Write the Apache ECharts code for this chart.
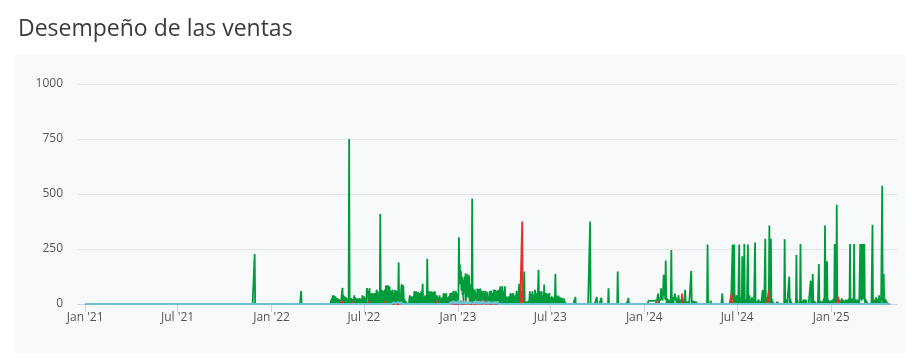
<!DOCTYPE html>
<html><head><meta charset="utf-8">
<script src="https://cdn.jsdelivr.net/npm/echarts@6/dist/echarts.min.js"></script>
<style>
html,body{margin:0;padding:0;background:#fff;}
#panel{position:absolute;left:15px;top:55px;width:891px;height:298px;background:#f8f9fb;}
#c{position:absolute;left:0;top:0;width:916px;height:359px;}
</style>
</head><body>
<div id="panel"></div>
<div id="c"></div>
<script>
// ---------- DATA ----------
const chartTitle = 'Desempeño de las ventas';
const seriesNames = ['Ventas', 'Devoluciones', 'Otros'];
const rangeStart = '2021-01-01';
const rangeEnd = '2025-04-26';
const axisMin = '2020-12-18';
const axisMax = '2025-05-10';
const tickDates = ['2021-01-01','2021-07-01','2022-01-01','2022-07-01','2023-01-01','2023-07-01','2024-01-01','2024-07-01','2025-01-01'];
const tickLabels = ["Jan '21","Jul '21","Jan '22","Jul '22","Jan '23","Jul '23","Jan '24","Jul '24","Jan '25"];
const yTicks = [0, 250, 500, 750, 1000];

// green: isolated days outside the dense stretch
const greenSpikes = [
  ['2021-11-29',227],['2022-02-28',60],
  ['2023-08-17',20],['2023-08-19',33],['2023-09-17',375],['2023-09-30',32],['2023-10-09',28],['2023-10-23',71],
  ['2023-11-10',148],['2023-11-26',5],['2023-11-28',10],['2023-12-01',28],
  ['2024-01-10',15],['2024-01-11',14],['2024-01-12',16],['2024-01-13',15],['2024-01-14',14],['2024-01-15',15],
  ['2024-01-16',16],['2024-01-17',15],['2024-01-18',14],['2024-01-19',15],['2024-01-20',16],['2024-01-21',15],
  ['2024-01-22',15],['2024-01-23',14],['2024-01-24',16],['2024-01-25',15],['2024-01-26',15],['2024-01-27',18],
  ['2024-01-28',47],['2024-01-29',20],['2024-01-31',25],['2024-02-01',15],['2024-02-02',30],
  ['2024-02-03',71],['2024-02-04',20],['2024-02-05',40],['2024-02-06',15],['2024-02-07',60],
  ['2024-02-08',133],['2024-02-09',40],['2024-02-10',90],['2024-02-11',20],
  ['2024-02-12',198],['2024-02-13',30],['2024-02-15',25],['2024-02-16',10],['2024-02-18',20],['2024-02-20',15],['2024-02-22',20],
  ['2024-02-23',245],['2024-02-24',10],['2024-02-26',30],['2024-02-28',20],['2024-02-29',15],
  ['2024-03-01',47],['2024-03-02',20],['2024-03-03',30],['2024-03-04',10],['2024-03-06',25],['2024-03-08',40],['2024-03-09',15],
  ['2024-03-11',20],['2024-03-12',10],['2024-03-15',30],['2024-03-18',20],['2024-03-21',65],['2024-03-22',15],['2024-03-25',10],
  ['2024-03-28',12],['2024-04-02',151],['2024-04-03',10],['2024-04-06',15],['2024-04-09',12],['2024-04-12',10],
  ['2024-05-04',270],['2024-05-10',15],['2024-05-26',5],['2024-06-02',48],
  ['2024-06-22',270],['2024-06-23',20],['2024-06-25',270],['2024-06-27',15],['2024-06-30',40],['2024-07-02',20],
  ['2024-07-05',270],['2024-07-07',30],['2024-07-09',25],['2024-07-11',217],['2024-07-13',20],['2024-07-15',273],
  ['2024-07-17',15],['2024-07-19',20],['2024-07-22',270],['2024-07-25',40],['2024-07-27',10],['2024-07-30',30],
  ['2024-08-02',15],['2024-08-05',279],['2024-08-07',10],['2024-08-12',20],['2024-08-16',10],['2024-08-20',64],
  ['2024-08-22',20],['2024-08-25',297],['2024-08-27',30],['2024-08-29',15],['2024-09-01',40],['2024-09-02',357],
  ['2024-09-03',60],['2024-09-05',297],['2024-09-07',20],['2024-09-09',10],['2024-09-18',10],
  ['2024-10-02',294],['2024-10-04',20],['2024-10-06',15],['2024-10-11',125],['2024-10-13',25],['2024-10-15',10],
  ['2024-10-25',224],['2024-10-27',20],['2024-11-02',273],['2024-11-04',15],['2024-11-09',20],['2024-11-11',10],
  ['2024-11-13',20],['2024-11-22',106],['2024-11-24',20],['2024-11-26',136],['2024-11-28',15],['2024-12-01',10],
  ['2024-12-08',182],['2024-12-10',15],['2024-12-14',10],['2024-12-18',25],['2024-12-20',357],['2024-12-22',30],
  ['2024-12-24',194],['2024-12-26',20],['2024-12-29',15],
  ['2025-01-02',15],['2025-01-04',20],['2025-01-06',25],['2025-01-08',273],['2025-01-10',30],['2025-01-12',451],
  ['2025-01-13',20],['2025-01-15',15],['2025-01-17',20],['2025-01-19',10],['2025-01-22',25],['2025-01-24',20],
  ['2025-01-26',15],['2025-01-28',10],['2025-01-30',20],['2025-02-01',15],['2025-02-03',20],['2025-02-05',25],
  ['2025-02-07',273],['2025-02-09',20],['2025-02-11',25],['2025-02-13',15],['2025-02-15',273],['2025-02-17',20],
  ['2025-02-20',20],['2025-02-22',15],['2025-02-24',20],['2025-02-27',273],['2025-02-28',20],['2025-03-01',273],
  ['2025-03-02',15],['2025-03-03',273],['2025-03-04',20],['2025-03-05',273],['2025-03-06',25],['2025-03-07',273],
  ['2025-03-08',15],['2025-03-10',20],['2025-03-12',10],['2025-03-23',360],['2025-03-25',20],['2025-03-28',20],
  ['2025-03-30',30],['2025-04-01',15],['2025-04-03',25],['2025-04-05',40],['2025-04-07',20],['2025-04-09',30],
  ['2025-04-10',25],['2025-04-11',538],['2025-04-12',30],['2025-04-14',136],['2025-04-16',25],['2025-04-18',20],
  ['2025-04-20',10]
];

// green: daily values, one row per week, starting 2022-04-25
const greenDenseStart = '2022-04-25';
const greenDense = [
  0,0,0,0,25,0,39,
  12,39,0,20,35,0,28,
  0,27,15,0,22,27,0,
  18,0,30,55,73,0,40,
  0,35,20,0,30,12,0,
  25,0,18,750,0,15,0,
  27,10,0,22,0,18,39,
  0,30,39,0,15,25,0,
  20,0,27,12,0,25,10,
  0,39,20,0,35,0,28,
  18,0,40,73,25,60,0,
  45,72,0,30,0,50,20,
  0,48,30,0,50,15,0,
  40,65,0,58,20,0,35,
  0,409,0,45,65,0,30,
  60,0,40,65,0,85,30,
  0,70,85,40,0,80,55,
  0,60,30,0,65,45,0,
  50,0,65,25,0,60,40,
  0,30,189,0,45,20,0,
  70,91,0,60,85,30,0,
  20,0,0,10,0,0,0,
  0,0,25,39,0,30,0,
  35,0,20,0,40,58,0,
  30,58,0,45,0,55,20,
  0,50,30,0,58,0,45,
  92,0,30,0,20,39,0,
  25,0,206,0,35,0,58,
  20,45,0,58,30,0,40,
  55,0,25,58,0,30,0,
  39,15,0,30,0,39,20,
  0,25,0,30,10,0,50,
  0,45,25,0,50,0,30,
  20,0,35,0,25,50,0,
  40,50,0,55,30,60,0,
  45,0,60,25,0,50,35,
  0,303,120,180,90,150,60,
  125,40,110,0,95,125,50,
  140,0,120,80,135,30,100,
  130,0,90,60,0,45,479,
  0,70,40,0,65,70,20,
  50,0,70,35,0,68,45,
  0,70,30,60,0,50,20,
  60,0,45,25,60,0,40,
  0,55,60,0,35,0,60,
  30,60,0,50,20,0,65,
  45,0,65,30,0,60,40,
  0,65,20,0,55,80,0,
  70,30,80,0,60,45,0,
  80,20,0,35,15,0,30,
  0,35,20,0,50,30,0,
  45,0,50,25,0,40,15,
  0,30,60,0,45,0,50,
  92,0,40,0,20,60,0,
  0,0,30,148,0,10,0,
  0,0,0,12,0,0,20,
  58,0,30,45,0,58,20,
  0,40,0,65,30,0,50,
  20,0,0,156,0,45,58,
  0,30,58,0,40,20,0,
  88,0,35,0,50,30,0,
  45,0,25,50,0,30,15,
  0,35,0,25,0,30,0,
  20,136,0,38,0,25,0,
  38,0,20,0,30,15,0,
  27,0,20,0,25,0,10
];

const redSpikes = [
  ['2022-05-19',15],['2022-06-10',12],['2022-07-10',15],['2022-08-10',12],['2022-11-21',15],['2022-12-17',15],
  ['2022-12-19',12],['2023-01-07',15],['2023-01-17',20],['2023-02-10',15],['2023-02-23',15],['2023-05-07',375],
  ['2024-01-25',15],['2024-03-15',47],['2024-06-20',47],['2024-09-01',64],['2025-01-15',33]
];

const blueSpikes = [
  ['2022-08-28',8],['2022-08-31',10],['2022-09-03',7],['2022-09-06',9],['2022-09-09',8],['2022-09-12',10],['2022-09-15',6]
];
const blueDenseStart = '2022-12-15';
const blueDense = [
  0,8,0,10,12,0,8,0,14,10,0,6,12,0,10,8,0,15,0,10,
  12,0,8,10,0,14,0,9,12,0,10,0,8,13,0,10,6,0,12,0,
  9,11,0,8,0,14,10,0,7,12,0,10,0,9,13,0,8,0,11,10,
  0,12,0,8,10,0,14,0,9,11,0,8,12,0,10,0,7,13,0,9,
  10,0,8,0,12,10,0,6,11,0,9,0,10,8,0,12,0,7,0,5
];

// ---------- BUILD ----------
const DAY = 86400000;
function ts(s){const p=s.split('-').map(Number);return Date.UTC(p[0],p[1]-1,p[2]);}
function buildDaily(spikes, denseStart, dense){
  const m = new Map();
  if (dense) { const t0 = ts(denseStart); dense.forEach((v,i)=>m.set(t0+i*DAY, v)); }
  spikes.forEach(([d,v])=>m.set(ts(d), v));
  const out = [];
  for (let t = ts(rangeStart); t <= ts(rangeEnd); t += DAY) out.push([t, m.has(t) ? m.get(t) : 0]);
  return out;
}
const greenData = buildDaily(greenSpikes, greenDenseStart, greenDense);
const redData = buildDaily(redSpikes, null, null);
const blueData = buildDaily(blueSpikes, blueDenseStart, blueDense);
const tickTs = tickDates.map(ts);

const font = "'Open Sans', 'Noto Sans', sans-serif";
const chart = echarts.init(document.getElementById('c'), null, {renderer:'canvas'});
chart.setOption({
  animation: false,
  backgroundColor: 'transparent',
  title: {
    text: chartTitle, left: 13, top: 13,
    textStyle: {fontSize: 23, fontWeight: 'normal', color: '#373d3f', fontFamily: "'Open Sans', sans-serif"}
  },
  grid: {left: 78, right: 19, top: 84, bottom: 55},
  xAxis: {
    type: 'value',
    min: ts(axisMin), max: ts(axisMax),
    axisLine: {show: true, onZero: false, lineStyle: {color: '#c8d4e4', width: 1}},
    axisTick: {show: true, length: 8, customValues: tickTs, lineStyle: {color: '#c8d4e4'}},
    axisLabel: {
      customValues: tickTs, margin: 8, fontSize: 12, color: '#555', fontFamily: font,
      formatter: function(v){ const i = tickTs.indexOf(v); return i >= 0 ? tickLabels[i] : ''; }
    },
    splitLine: {show: false}
  },
  yAxis: {
    type: 'value', min: yTicks[0], max: yTicks[yTicks.length-1], interval: 250,
    axisLine: {show: false}, axisTick: {show: false},
    axisLabel: {margin: 15, fontSize: 12, color: '#555', fontFamily: font, formatter: function(v){ return String(v); }},
    splitLine: {lineStyle: {color: '#e3e5e8', width: 1}}
  },
  series: [
    {name: seriesNames[0], type: 'line', data: greenData, showSymbol: false, symbol: 'none',
     lineStyle: {color: '#009b3a', width: 1.8}, itemStyle:{color:'#009b3a'}, z: 2},
    {name: seriesNames[1], type: 'line', data: redData, showSymbol: false, symbol: 'none',
     lineStyle: {color: '#e0342b', width: 1.8}, itemStyle:{color:'#e0342b'}, z: 3},
    {name: seriesNames[2], type: 'line', data: blueData, showSymbol: false, symbol: 'none',
     lineStyle: {color: '#6cc2d8', width: 2}, itemStyle:{color:'#6cc2d8'}, z: 4}
  ]
});
</script>
</body></html>
